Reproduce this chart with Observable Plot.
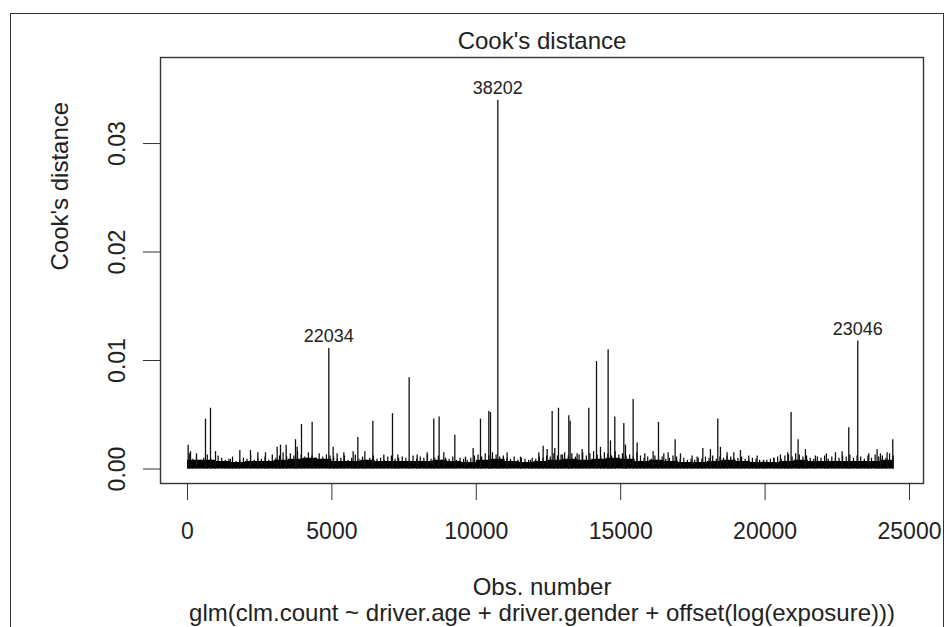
<!DOCTYPE html>
<html>
<head>
<meta charset="utf-8">
<script src="https://cdn.jsdelivr.net/npm/d3@7"></script>
<script src="https://cdn.jsdelivr.net/npm/@observablehq/plot@0.6"></script>
<style>
  html, body { margin: 0; padding: 0; background: #fff; overflow: hidden; width: 948px; height: 627px; }
  #border { position: absolute; left: 10px; top: 13px; width: 934px; height: 700px; border: 1.5px solid #333; box-sizing: border-box; }
  #chart { position: absolute; left: 0; top: 0; }
</style>
</head>
<body>
<div id="border"></div>
<div id="chart"></div>
<script>
// Notable spikes: observation number and Cook's distance
const spikeObs = [23,104,312,623,796,970,1489,1812,2181,2435,
  2700,3104,3220,3416,3740,3797,3947,4316,4893,5043,
  5182,5413,5736,5898,6140,6417,6798,7098,7283,7675,
  7952,8298,8529,8713,8875,9256,9625,9891,10145,10434,
  10491,10745,11068,11530,11877,12165,12315,12454,12627,12719,
  12846,12985,13204,13250,13492,13665,13896,14162,14300,14565,
  14646,14796,15108,15165,15431,15569,15835,16123,16308,16493,
  16643,16885,17070,17473,17647,17843,18108,18362,18454,18685,
  18916,19147,19435,19724,19955,20301,20532,20785,20900,21143,
  21397,21743,22124,22436,22667,22897,23209,23590,23878,23994,
  24225,24421];
const spikeD = [.0022,.0016,.0014,.0046,.0056,.0016,.0009,.0017,.0017,.0015,
  .0015,.0020,.0022,.0022,.0027,.0020,.0041,.0043,.0111,.0020,
  .0014,.0015,.0016,.0029,.0016,.0044,.0013,.0051,.0013,.0084,
  .0013,.0015,.0046,.0048,.0015,.0031,.0011,.0019,.0046,.0053,
  .0052,.0340,.0015,.0011,.0008,.0015,.0021,.0018,.0053,.0019,
  .0056,.0013,.0049,.0044,.0014,.0018,.0056,.0099,.0020,.0110,
  .0026,.0048,.0042,.0022,.0064,.0024,.0014,.0016,.0043,.0014,
  .0015,.0027,.0014,.0012,.0011,.0019,.0018,.0046,.0020,.0015,
  .0015,.0017,.0012,.0012,.0008,.0010,.0013,.0015,.0052,.0027,
  .0018,.0012,.0014,.0015,.0016,.0038,.0118,.0014,.0018,.0014,
  .0015,.0027];

// Labelled influential observations
const labelObs = [10745, 4893, 23209];
const labelD = [.0340, .0111, .0118];
const labelText = ["38202", "22034", "23046"];

// Dense base band of small distances (every 500 obs, units of 1e-4)
const bandObs = [0,500,1000,1500,2000,2500,3000,3500,4000,4500,5000,5500,6000,6500,7000,7500,8000,8500,9000,9500,
  10000,10500,11000,11500,12000,12500,13000,13500,14000,14500,15000,15500,16000,16500,17000,17500,18000,18500,19000,19500,
  20000,20500,21000,21500,22000,22500,23000,23500,24000,24460];
const bandD = [8,8,7,6,7,7,8,9,10,9,7,7,8,7,7,7,7,8,7,6,
  8,9,7,6,7,8,9,8,9,10,9,7,8,7,6,6,7,8,7,6,
  6,7,8,7,7,7,7,7,8,8];

// Fringe of small spikes, one every 125 observations (units of 1e-4)
const fringeStep = 125;
const fringeD = [
  14,9,11,8,10,13,9,7,12,10,8,9,11,7,8,10,9,12,8,10,
  9,11,8,13,10,12,15,11,14,12,16,13,11,15,12,10,14,11,13,12,
  11,9,10,12,8,10,13,9,11,8,10,12,9,10,8,11,12,9,10,11,
  10,8,12,9,11,10,13,9,10,12,8,10,9,11,8,10,9,8,10,12,
  13,11,14,12,15,13,11,12,10,9,11,8,10,9,8,10,9,11,10,12,
  11,14,12,13,15,12,14,11,13,15,12,14,16,13,12,15,14,12,16,13,
  14,12,13,11,15,12,10,11,9,12,10,11,9,10,12,11,9,10,8,9,
  8,10,9,11,10,12,9,11,10,12,11,9,10,11,9,8,10,9,8,7,
  8,9,10,11,9,12,13,11,14,13,11,12,10,9,11,10,12,9,11,10,
  10,12,11,13,10,12,11,9,12,10,13,11,12,10,14,12];

const xTicks = [0, 5000, 10000, 15000, 20000, 25000];
const yTicks = [0, 0.01, 0.02, 0.03];

const spikes = spikeObs.map((o, i) => ({obs: o, d: spikeD[i]}));
const labels = labelObs.map((o, i) => ({obs: o, d: labelD[i], t: labelText[i]}));
const band = bandObs.map((o, i) => ({obs: o, d: bandD[i] * 1e-4}));
const fringe = fringeD.map((v, i) => ({obs: 60 + i * fringeStep, d: v * 1e-4}));

const font = "'Liberation Sans', Arial, Helvetica, sans-serif";
const ink = "#222";

const chart = Plot.plot({
  width: 948,
  height: 627,
  marginLeft: 160,
  marginRight: 25,
  marginTop: 57,
  marginBottom: 144,
  style: {fontFamily: font, fontSize: "23px", color: ink, background: "transparent", overflow: "visible"},
  x: {domain: [-935, 25485]},
  y: {domain: [-0.001336, 0.03793]},
  marks: [
    Plot.areaY(band, {x: "obs", y: "d", curve: "step-after", fill: "#000"}),
    Plot.ruleX(fringe, {x: "obs", y1: 0, y2: "d", stroke: "#000", strokeWidth: 1.2}),
    Plot.ruleX(spikes, {x: "obs", y1: 0, y2: "d", stroke: "#111", strokeWidth: 1.3}),
    Plot.text(labels, {x: "obs", y: "d", text: "t", dy: -12, fontSize: 18, fill: ink}),
    Plot.frame({stroke: "#333", strokeWidth: 1.4}),
    Plot.axisX({ticks: xTicks, tickSize: 17, tickPadding: 22, tickFormat: d => String(d), label: null, stroke: "#333", fill: ink, fontSize: 23}),
    Plot.axisY({ticks: yTicks, tickSize: 17, tickFormat: () => "", label: null, stroke: "#333"}),
    Plot.text(yTicks, {y: d => d, frameAnchor: "left", dx: -43, rotate: -90, text: d => d3.format(".2f")(d), fontSize: 23, fill: ink, textAnchor: "middle", lineAnchor: "middle"}),
    Plot.text(["Cook's distance"], {frameAnchor: "left", dx: -100, rotate: -90, fontSize: 24, fill: ink, lineAnchor: "middle"}),
    Plot.text(["Cook's distance"], {frameAnchor: "top", dy: -16, fontSize: 24, fill: ink, lineAnchor: "middle"}),
    Plot.text(["Obs. number"], {frameAnchor: "bottom", dy: 104, fontSize: 24, fill: ink, lineAnchor: "middle"}),
    Plot.text(["glm(clm.count ~ driver.age + driver.gender + offset(log(exposure)))"], {frameAnchor: "bottom", dy: 130, fontSize: 24, fill: ink, lineAnchor: "middle"})
  ]
});
document.getElementById("chart").appendChild(chart);
</script>
</body>
</html>
